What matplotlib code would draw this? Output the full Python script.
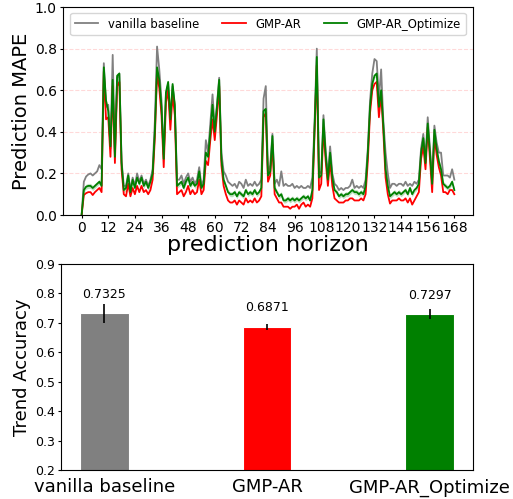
"""
MAPE per prediction horizon (top) and trend accuracy per model (bottom).
Writes: out.png
"""
import matplotlib
matplotlib.use("Agg")
import matplotlib.pyplot as plt

HORIZON = list(range(169))

# one row per day (24 h), last row has 25 points (144..168)
VANILLA_MAPE = [
    0.00, 0.16, 0.185, 0.195, 0.20, 0.19, 0.20, 0.21, 0.24, 0.22, 0.73, 0.52, 0.53, 0.32, 0.77, 0.30, 0.66, 0.68, 0.26, 0.14, 0.14, 0.20, 0.12, 0.18,
    0.14, 0.20, 0.16, 0.19, 0.15, 0.17, 0.14, 0.17, 0.22, 0.45, 0.81, 0.70, 0.55, 0.29, 0.58, 0.63, 0.46, 0.62, 0.52, 0.17, 0.17, 0.19, 0.15, 0.18,
    0.20, 0.16, 0.18, 0.15, 0.17, 0.23, 0.14, 0.17, 0.36, 0.30, 0.44, 0.58, 0.42, 0.53, 0.66, 0.30, 0.21, 0.19, 0.16, 0.15, 0.14, 0.15, 0.13, 0.16,
    0.15, 0.13, 0.17, 0.14, 0.15, 0.14, 0.16, 0.14, 0.15, 0.17, 0.56, 0.62, 0.20, 0.24, 0.39, 0.15, 0.17, 0.14, 0.21, 0.14, 0.15, 0.14, 0.14, 0.15,
    0.13, 0.14, 0.13, 0.14, 0.13, 0.13, 0.14, 0.13, 0.18, 0.45, 0.80, 0.21, 0.20, 0.48, 0.31, 0.19, 0.33, 0.20, 0.15, 0.14, 0.12, 0.13, 0.12, 0.13,
    0.13, 0.14, 0.17, 0.13, 0.14, 0.13, 0.14, 0.13, 0.17, 0.32, 0.55, 0.68, 0.75, 0.74, 0.56, 0.70, 0.45, 0.30, 0.20, 0.13, 0.15, 0.15, 0.14, 0.15,
    0.15, 0.14, 0.16, 0.14, 0.15, 0.14, 0.16, 0.15, 0.17, 0.32, 0.39, 0.27, 0.47, 0.32, 0.18, 0.43, 0.35, 0.30, 0.30, 0.19, 0.19, 0.19, 0.18, 0.22, 0.17,
]
GMP_AR_MAPE = [
    0.00, 0.096, 0.105, 0.11, 0.11, 0.096, 0.11, 0.12, 0.13, 0.11, 0.69, 0.46, 0.47, 0.28, 0.62, 0.25, 0.62, 0.64, 0.22, 0.10, 0.09, 0.15, 0.09, 0.13,
    0.10, 0.14, 0.11, 0.14, 0.11, 0.12, 0.10, 0.12, 0.17, 0.37, 0.68, 0.61, 0.48, 0.23, 0.54, 0.60, 0.41, 0.58, 0.48, 0.10, 0.11, 0.12, 0.09, 0.11,
    0.14, 0.10, 0.12, 0.10, 0.11, 0.17, 0.10, 0.12, 0.26, 0.24, 0.36, 0.46, 0.36, 0.48, 0.62, 0.24, 0.14, 0.10, 0.07, 0.06, 0.06, 0.07, 0.05, 0.07,
    0.06, 0.05, 0.08, 0.06, 0.07, 0.06, 0.08, 0.06, 0.07, 0.09, 0.47, 0.49, 0.16, 0.19, 0.34, 0.10, 0.08, 0.06, 0.06, 0.04, 0.04, 0.04, 0.03, 0.04,
    0.04, 0.05, 0.03, 0.05, 0.06, 0.04, 0.05, 0.04, 0.08, 0.40, 0.72, 0.12, 0.15, 0.42, 0.26, 0.14, 0.26, 0.14, 0.08, 0.07, 0.06, 0.06, 0.06, 0.07,
    0.07, 0.08, 0.08, 0.07, 0.07, 0.07, 0.08, 0.07, 0.10, 0.26, 0.49, 0.60, 0.63, 0.64, 0.47, 0.58, 0.40, 0.18, 0.10, 0.055, 0.07, 0.07, 0.07, 0.08,
    0.07, 0.07, 0.08, 0.06, 0.08, 0.05, 0.07, 0.09, 0.11, 0.27, 0.33, 0.22, 0.42, 0.27, 0.11, 0.38, 0.29, 0.23, 0.19, 0.11, 0.11, 0.10, 0.12, 0.12, 0.10,
]
GMP_AR_OPT_MAPE = [
    0.00, 0.12, 0.136, 0.14, 0.14, 0.13, 0.14, 0.15, 0.16, 0.14, 0.71, 0.55, 0.50, 0.33, 0.65, 0.28, 0.67, 0.68, 0.25, 0.12, 0.13, 0.19, 0.11, 0.17,
    0.13, 0.18, 0.15, 0.18, 0.14, 0.16, 0.13, 0.16, 0.20, 0.40, 0.71, 0.65, 0.52, 0.27, 0.59, 0.64, 0.46, 0.63, 0.53, 0.14, 0.15, 0.16, 0.13, 0.16,
    0.18, 0.14, 0.16, 0.14, 0.15, 0.21, 0.13, 0.15, 0.30, 0.28, 0.40, 0.53, 0.40, 0.52, 0.65, 0.27, 0.17, 0.14, 0.11, 0.10, 0.10, 0.11, 0.09, 0.11,
    0.10, 0.09, 0.12, 0.10, 0.11, 0.10, 0.12, 0.10, 0.11, 0.13, 0.50, 0.51, 0.19, 0.21, 0.38, 0.13, 0.11, 0.09, 0.10, 0.07, 0.07, 0.08, 0.07, 0.08,
    0.07, 0.08, 0.07, 0.08, 0.09, 0.08, 0.09, 0.07, 0.12, 0.42, 0.76, 0.18, 0.19, 0.46, 0.29, 0.17, 0.30, 0.18, 0.12, 0.11, 0.09, 0.10, 0.09, 0.10,
    0.10, 0.11, 0.12, 0.11, 0.11, 0.10, 0.11, 0.10, 0.14, 0.30, 0.52, 0.63, 0.67, 0.68, 0.52, 0.60, 0.43, 0.22, 0.14, 0.09, 0.10, 0.11, 0.10, 0.11,
    0.10, 0.11, 0.12, 0.10, 0.13, 0.10, 0.12, 0.13, 0.15, 0.30, 0.37, 0.25, 0.44, 0.30, 0.15, 0.41, 0.32, 0.26, 0.22, 0.15, 0.14, 0.13, 0.14, 0.16, 0.12,
]
OPT_BAND = 0.012  # half-width of the shaded band round the optimized curve

MODELS = ["vanilla baseline", "GMP-AR", "GMP-AR_Optimize"]
TREND_ACC = [0.7325, 0.6871, 0.7297]
TREND_STD = [0.032, 0.010, 0.017]
COLORS = ["gray", "red", "green"]


def main():
    fig = plt.figure(figsize=(5.13, 4.99), dpi=100)

    # top: MAPE vs horizon
    ax = fig.add_axes([0.1228, 0.5691, 0.7992, 0.4168])
    ax.plot(HORIZON, VANILLA_MAPE, color="gray", lw=1.3, label=MODELS[0])
    ax.plot(HORIZON, GMP_AR_MAPE, color="red", lw=1.3, label=MODELS[1])
    ax.plot(HORIZON, GMP_AR_OPT_MAPE, color="green", lw=1.3, label=MODELS[2])
    lo = [v - OPT_BAND for v in GMP_AR_OPT_MAPE]
    hi = [v + OPT_BAND for v in GMP_AR_OPT_MAPE]
    ax.fill_between(HORIZON, lo, hi, color="green", alpha=0.25, lw=0)
    ax.set_ylim(0, 1.0)
    ax.set_xticks(range(0, 169, 12))
    ax.tick_params(labelsize=10, length=2.5, pad=2)
    ax.yaxis.grid(True, linestyle="--", color="red", alpha=0.15, lw=0.8)
    ax.set_xlabel("prediction horizon", fontsize=16, labelpad=0)
    ax.set_ylabel("Prediction MAPE", fontsize=14, labelpad=3)
    ax.legend(loc="upper center", ncol=3, fontsize=8.4)

    # bottom: trend accuracy
    bx = fig.add_axes([0.1189, 0.0581, 0.8031, 0.4128])
    xs = range(len(MODELS))
    bx.bar(xs, TREND_ACC, width=0.3, color=COLORS, edgecolor="white", lw=0.8,
           yerr=TREND_STD, ecolor="black", error_kw={"lw": 1.2})
    for x, v in zip(xs, TREND_ACC):
        bx.text(x, v + 0.042, f"{v:.4f}", ha="center", va="bottom", fontsize=9)
    bx.set_ylim(0.2, 0.9)
    bx.set_xticks(list(xs))
    bx.set_xticklabels(MODELS, fontsize=13)
    bx.tick_params(axis="y", labelsize=9, length=2.5, pad=2)
    bx.tick_params(axis="x", length=0, pad=6)
    bx.set_ylabel("Trend Accuracy", fontsize=13, labelpad=3)

    fig.savefig("out.png", dpi=100)
    plt.close(fig)


if __name__ == "__main__":
    main()
